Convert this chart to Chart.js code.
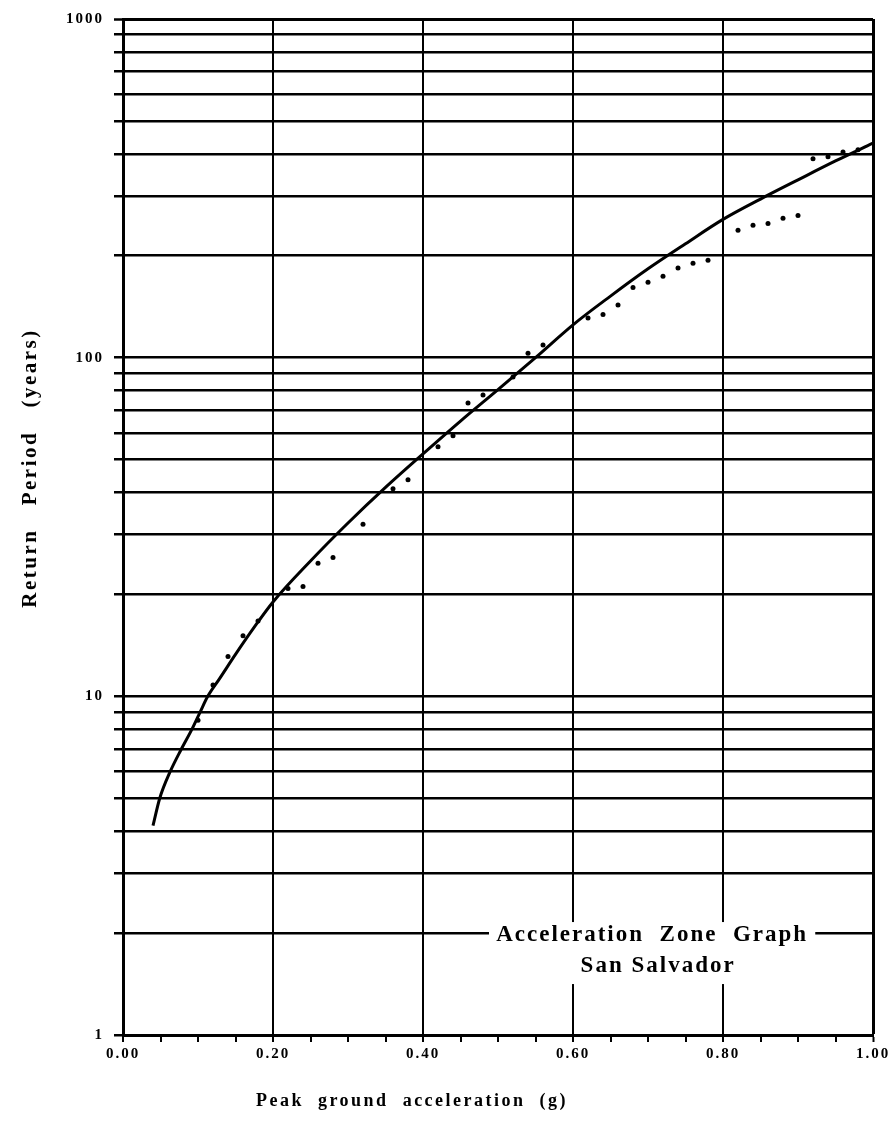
<!DOCTYPE html>
<html>
<head>
<meta charset="utf-8">
<title>Acceleration Zone Graph - San Salvador</title>
<script src="https://cdn.jsdelivr.net/npm/chart.js@4.4.1/dist/chart.umd.min.js"></script>
<style>
  html, body { margin: 0; padding: 0; background: #fff; }
  #wrap { width: 894px; height: 1135px; position: relative; }
</style>
</head>
<body>
<div id="wrap"><canvas id="zoneChart"></canvas></div>
<script>
// fitted curve: return period vs peak ground acceleration
const curveAccel  = [0.04, 0.049, 0.063, 0.078, 0.092, 0.103, 0.113, 0.129, 0.15, 0.175, 0.20,
                     0.25, 0.30, 0.35, 0.40, 0.45, 0.50, 0.55, 0.60, 0.65, 0.70, 0.75,
                     0.80, 0.85, 0.90, 0.95, 1.00];
const curvePeriod = [4.15, 5, 6, 7, 8, 9, 10, 11.3, 13.3, 16, 19,
                     25.1, 32.5, 41.4, 52, 65, 80.5, 100, 125, 152, 183, 217,
                     256, 294, 335, 381, 430];

// computed points
const pointAccel  = [0.10, 0.12, 0.14, 0.16, 0.18, 0.22, 0.24, 0.26, 0.28, 0.32, 0.36, 0.38,
                     0.42, 0.44, 0.46, 0.48, 0.52, 0.54, 0.56, 0.62, 0.64, 0.66, 0.68, 0.70,
                     0.72, 0.74, 0.76, 0.78, 0.82, 0.84, 0.86, 0.88, 0.90, 0.92, 0.94, 0.96, 0.98];
const pointPeriod = [8.5, 10.8, 13.1, 15.1, 16.7, 20.8, 21.1, 24.7, 25.7, 32.2, 41, 43.6,
                     54.6, 58.8, 73.5, 77.6, 87.7, 103, 109, 131, 134, 143, 161, 167,
                     174, 184, 190, 194, 238, 246, 249, 258, 263, 387, 392, 405, 411];

// axis ticks
const xTicks = [0, 0.05, 0.1, 0.15, 0.2, 0.25, 0.3, 0.35, 0.4, 0.45, 0.5,
                0.55, 0.6, 0.65, 0.7, 0.75, 0.8, 0.85, 0.9, 0.95, 1];
const xLabelTicks = [0, 0.2, 0.4, 0.6, 0.8, 1];
const yTicks = [1, 2, 3, 4, 5, 6, 7, 8, 9,
                10, 20, 30, 40, 50, 60, 70, 80, 90,
                100, 200, 300, 400, 500, 600, 700, 800, 900, 1000];
const yLabelTicks = [1, 10, 100, 1000];

const SERIF = "'Liberation Serif', 'Times New Roman', serif";

const textSpacing = {
  id: 'textSpacing',
  beforeDraw(chart) {
    chart.ctx.letterSpacing = '2px';
  }
};

const annotations = {
  id: 'annotations',
  afterDraw(chart) {
    const ctx = chart.ctx;
    const x = chart.scales.x, y = chart.scales.y;
    ctx.save();
    ctx.fillStyle = '#000';
    ctx.textAlign = 'center';
    ctx.textBaseline = 'middle';

    // x axis title
    ctx.font = 'bold 18px ' + SERIF;
    ctx.letterSpacing = '2.5px';
    ctx.fillText('Peak  ground  acceleration  (g)', 412, 1101);

    // y axis title, rotated
    ctx.font = 'bold 21px ' + SERIF;
    ctx.letterSpacing = '2.5px';
    ctx.translate(31, 468);
    ctx.rotate(-Math.PI / 2);
    ctx.fillText('Return   Period   (years)', 0, 0);
    ctx.setTransform(1, 0, 0, 1, 0, 0);

    // caption box sitting on the 2-year line
    const y2 = y.getPixelForValue(2);
    const left = x.getPixelForValue(0.488);
    const right = x.getPixelForValue(0.923);
    ctx.fillStyle = '#fff';
    ctx.fillRect(left, y2 - 11, right - left, 62);
    ctx.fillStyle = '#000';
    ctx.font = 'bold 23px ' + SERIF;
    ctx.letterSpacing = '2px';
    const cx = (left + right) / 2;
    ctx.fillText('Acceleration  Zone  Graph', cx, y2 + 2);
    ctx.fillText('San Salvador', cx + 6, y2 + 33);
    ctx.restore();
  }
};

const data = {
  datasets: [
    {
      type: 'line',
      data: curveAccel.map((a, i) => ({ x: a, y: curvePeriod[i] })),
      borderColor: '#000',
      borderWidth: 3,
      pointRadius: 0,
      cubicInterpolationMode: 'monotone',
      fill: false
    },
    {
      type: 'scatter',
      data: pointAccel.map((a, i) => ({ x: a, y: pointPeriod[i] })),
      backgroundColor: '#000',
      borderWidth: 0,
      pointRadius: 2.5
    }
  ]
};

const config = {
  type: 'scatter',
  data: data,
  options: {
    responsive: true,
    maintainAspectRatio: false,
    animation: false,
    layout: { padding: { top: 16, right: 21, left: 0, bottom: 0 } },
    plugins: {
      legend: { display: false },
      tooltip: { enabled: false }
    },
    scales: {
      x: {
        type: 'linear',
        min: 0,
        max: 1,
        afterBuildTicks: s => { s.ticks = xTicks.map(v => ({ value: v })); },
        afterFit: s => { s.height = 100; },
        ticks: {
          autoSkip: false,
          maxRotation: 0,
          color: '#000',
          padding: 3,
          font: { family: SERIF, size: 15, weight: 'bold' },
          callback: v => xLabelTicks.includes(v) ? v.toFixed(2) : ''
        },
        grid: {
          color: c => (c.tick && xLabelTicks.includes(c.tick.value)) ? '#000' : 'rgba(0,0,0,0)',
          lineWidth: c => (c.tick && c.tick.value === 1) ? 3 : 2,
          tickColor: '#000',
          tickLength: 7,
          tickWidth: 2
        },
        border: { display: true, color: '#000', width: 3 }
      },
      y: {
        type: 'logarithmic',
        min: 1,
        max: 1000,
        afterBuildTicks: s => { s.ticks = yTicks.map(v => ({ value: v })); },
        afterFit: s => { s.width = 123; },
        ticks: {
          autoSkip: false,
          color: '#000',
          padding: 10,
          font: { family: SERIF, size: 15, weight: 'bold' },
          callback: v => yLabelTicks.includes(v) ? String(v) : ''
        },
        grid: {
          color: '#000',
          lineWidth: c => (c.tick && c.tick.value === 1000) ? 3 : 2.5,
          tickColor: '#000',
          tickLength: 9,
          tickWidth: 2.5
        },
        border: { display: true, color: '#000', width: 3 }
      }
    }
  },
  plugins: [textSpacing, annotations]
};

// eslint-disable-next-line
const zoneChart = new Chart(document.getElementById('zoneChart'), config);
</script>
</body>
</html>
